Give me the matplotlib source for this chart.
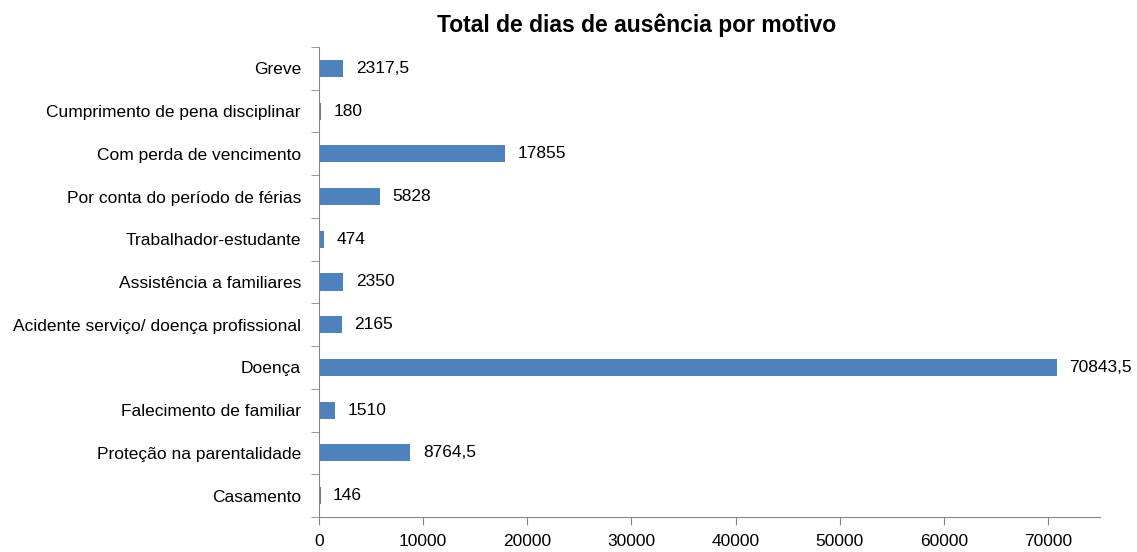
import matplotlib.pyplot as plt
import numpy as np

# dados
motivos = ["Greve", "Cumprimento de pena disciplinar", "Com perda de vencimento",
           "Por conta do período de férias", "Trabalhador-estudante",
           "Assistência a familiares", "Acidente serviço/ doença profissional",
           "Doença", "Falecimento de familiar", "Proteção na parentalidade", "Casamento"]
dias = [2317.5, 180, 17855, 5828, 474, 2350, 2165, 70843.5, 1510, 8764.5, 146]
rotulos = ["2317,5", "180", "17855", "5828", "474", "2350", "2165",
           "70843,5", "1510", "8764,5", "146"]

plt.rcParams['font.family'] = ['Liberation Sans Narrow', 'Liberation Sans', 'DejaVu Sans']

fig = plt.figure(figsize=(11.37, 5.52), dpi=100)
ax = fig.add_axes([319/1137, 1-517/552, (1100-319)/1137, (517-47)/552])

y = np.arange(len(motivos))
ax.barh(y, dias, height=0.4, color='#4F81BD')
for yi, v, r in zip(y, dias, rotulos):
    ax.text(v + 1200, yi, r, va='center', ha='left', fontsize=12.5)

ax.set_ylim(len(motivos) - 0.5, -0.5)
ax.set_xlim(0, 75000)
ax.set_yticks(y)
ax.set_yticklabels(motivos, fontsize=12.5)
ax.set_yticks(np.arange(-0.5, len(motivos) + 0.5, 1), minor=True)
ax.tick_params(axis='y', which='major', length=0, pad=13)
ax.tick_params(axis='y', which='minor', length=6, color='#868686')
ax.set_xticks(np.arange(0, 80000, 10000))
ax.tick_params(axis='x', length=6, color='#868686', labelsize=12.5, pad=6)

for s in ['top', 'right']:
    ax.spines[s].set_visible(False)
for s in ['left', 'bottom']:
    ax.spines[s].set_color('#868686')

fig.text(0.56, 0.955, "Total de dias de ausência por motivo", ha='center', va='center',
         fontsize=16.5, fontweight='bold')

fig.savefig("out.png", dpi=100)
